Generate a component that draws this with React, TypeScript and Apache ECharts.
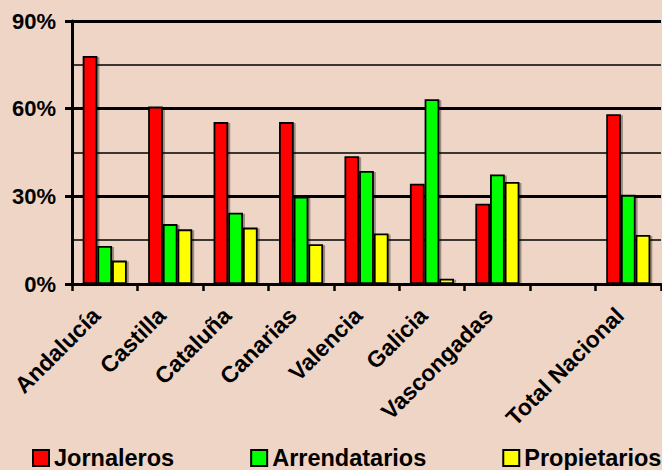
import React, { useEffect, useRef } from "react";
import * as echarts from "echarts";

const categories = [
  "Andalucía",
  "Castilla",
  "Cataluña",
  "Canarias",
  "Valencia",
  "Galicia",
  "Vascongadas",
  "",
  "Total Nacional",
];
const jornaleros: (number | string)[] = [78.0, 60.7, 55.4, 55.4, 43.7, 34.3, 27.5, "-", 58.1];
const arrendatarios: (number | string)[] = [13.0, 20.5, 24.4, 29.9, 38.7, 63.2, 37.5, "-", 30.5];
const propietarios: (number | string)[] = [8.0, 18.7, 19.3, 13.6, 17.3, 1.8, 34.9, "-", 16.8];
const seriesNames = ["Jornaleros", "Arrendatarios", "Propietarios"];
const seriesColors = ["#FF0000", "#00FF00", "#FFFF00"];
const yTickLabels = ["0%", "30%", "60%", "90%"];

const FONT = "'Liberation Sans', Arial, sans-serif";

export default function App() {
  const ref = useRef<HTMLDivElement>(null);
  useEffect(() => {
    if (!ref.current) return;
    const chart = echarts.init(ref.current, null, { renderer: "svg" });
    const dataSets = [jornaleros, arrendatarios, propietarios];
    const option: any = {
      animation: false,
      backgroundColor: "#EFD5C6",
      grid: { left: 72, right: 1, top: 21, bottom: 186, containLabel: false },
      legend: {
        data: seriesNames,
        left: 32,
        top: 446,
        padding: 0,
        itemGap: 76,
        itemWidth: 16,
        itemHeight: 16,
        icon: "rect",
        textStyle: { fontFamily: FONT, fontSize: 23.5, fontWeight: "bold", color: "#000" },
      },
      xAxis: {
        type: "category",
        data: categories,
        boundaryGap: true,
        axisLine: { show: true, lineStyle: { color: "#000", width: 3 } },
        axisTick: { show: true, interval: 0, length: 7, lineStyle: { color: "#000", width: 2.5 } },
        axisLabel: {
          interval: 0,
          rotate: 45,
          margin: 19,
          padding: [0, 12, 0, 0],
          fontFamily: FONT,
          fontSize: 23,
          fontWeight: "bold",
          color: "#000",
        },
        splitLine: { show: false },
      },
      yAxis: {
        type: "value",
        min: 0,
        max: 90,
        interval: 30,
        axisLine: { show: true, lineStyle: { color: "#000", width: 3 } },
        axisTick: { show: true, length: 7, lineStyle: { color: "#000", width: 3 } },
        axisLabel: {
          margin: 16,
          fontFamily: FONT,
          fontSize: 22,
          fontWeight: "bold",
          color: "#000",
          formatter: (v: number) => yTickLabels[Math.round(v / 30)] ?? "",
        },
        splitLine: { show: true, lineStyle: { color: "#000", width: 3 } },
        minorTick: { show: false, splitNumber: 2 },
        minorSplitLine: { show: true, lineStyle: { color: "#000", width: 1.5 } },
      },
      series: seriesNames.map((name, i) => ({
        name,
        type: "bar",
        data: dataSets[i],
        barWidth: 14.7,
        barGap: "0%",
        itemStyle: {
          color: seriesColors[i],
          borderColor: "#000",
          borderWidth: 1.8,
          shadowColor: "rgba(0,0,0,0.35)",
          shadowOffsetX: 2,
          shadowOffsetY: 1,
          shadowBlur: 1,
        },
        emphasis: { disabled: true },
      })),
    };
    chart.setOption(option);
    return () => chart.dispose();
  }, []);
  return (
    <div
      ref={ref}
      style={{ position: "fixed", left: 0, top: 0, width: 662, height: 470 }}
    />
  );
}
